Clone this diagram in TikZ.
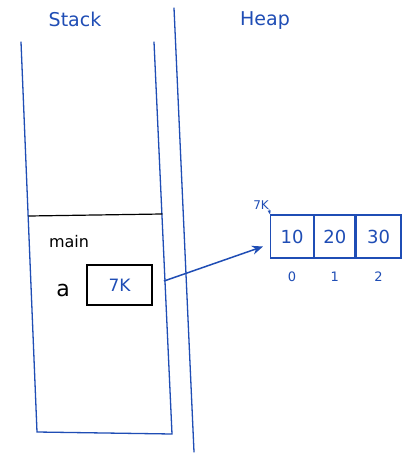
\documentclass[tikz,border=0pt]{standalone}
\usepackage{fontspec}
\setmainfont{DejaVu Sans}
\usetikzlibrary{arrows.meta,calc}
\definecolor{ink}{HTML}{1F4DB5}
\tikzset{
  blueline/.style={draw=ink, line width=1.3pt, line cap=round},
  blackline/.style={draw=black, line width=1.2pt, line cap=round},
  bluetxt/.style={text=ink, font=\fontsize{19}{19}\selectfont, inner sep=0pt},
  blacktxt/.style={text=black, inner sep=0pt},
  cell/.style={draw=ink, line width=1.2pt, minimum width=40pt, minimum height=43pt, inner sep=0pt, text=ink, font=\fontsize{18}{18}\selectfont},
  idx/.style={text=ink, font=\fontsize{13}{13}\selectfont, inner sep=0pt},
}
\begin{document}
\begin{tikzpicture}[x=1pt,y=-1pt]
\useasboundingbox[fill=white] (0,0) rectangle (410,454);
% titles
\node[bluetxt] (stacklbl) at (75,19) {Stack};
\node[bluetxt] (heaplbl) at (265,21) {Heap};
% stack frame
\draw[blueline] (21,42) -- (37,432) -- (172,434) -- (154,42);
\draw[blackline] (29,216) -- (162,214);
% separator
\draw[blueline] (174,8) -- (194,452);
% main frame contents
\node[blacktxt, font=\fontsize{16}{16}\selectfont] (mainlbl) at (69,242) {main};
\node[blacktxt, font=\fontsize{22}{22}\selectfont] (alabel) at (63,290) {a};
\node[draw=black, line width=1.2pt, minimum width=65pt, minimum height=40pt, inner sep=0pt, text=ink, font=\fontsize{17}{17}\selectfont] (abox) at (119.5,285) {7K};
% array
\node[cell, minimum width=43pt, anchor=west] (c0) at (270,236.5) {10};
\node[cell, anchor=west] (c1) at (c0.east) {20};
\node[cell, minimum width=45pt, anchor=west] (c2) at (c1.east) {30};
\node[idx] (i0) at (c0.center |- 0,277) {0};
\node[idx] (i1) at (c1.center |- 0,277) {1};
\node[idx] (i2) at (c2.center |- 0,277) {2};
\node[text=ink, inner sep=0pt, font=\fontsize{12}{12}\selectfont] (addr) at (261,205) {7K};
\draw[ink, line width=1pt, -{Stealth[length=4pt]}] (addr.south east) -- (c0.north west);
% pointer
\coordinate (ptrend) at ($(c0.west)+(-7,10)$);
\draw[ink, line width=1.5pt, shorten <=12pt, -{Stealth[length=11pt,width=9pt]}] (abox.east) -- (ptrend);
\end{tikzpicture}
\end{document}
